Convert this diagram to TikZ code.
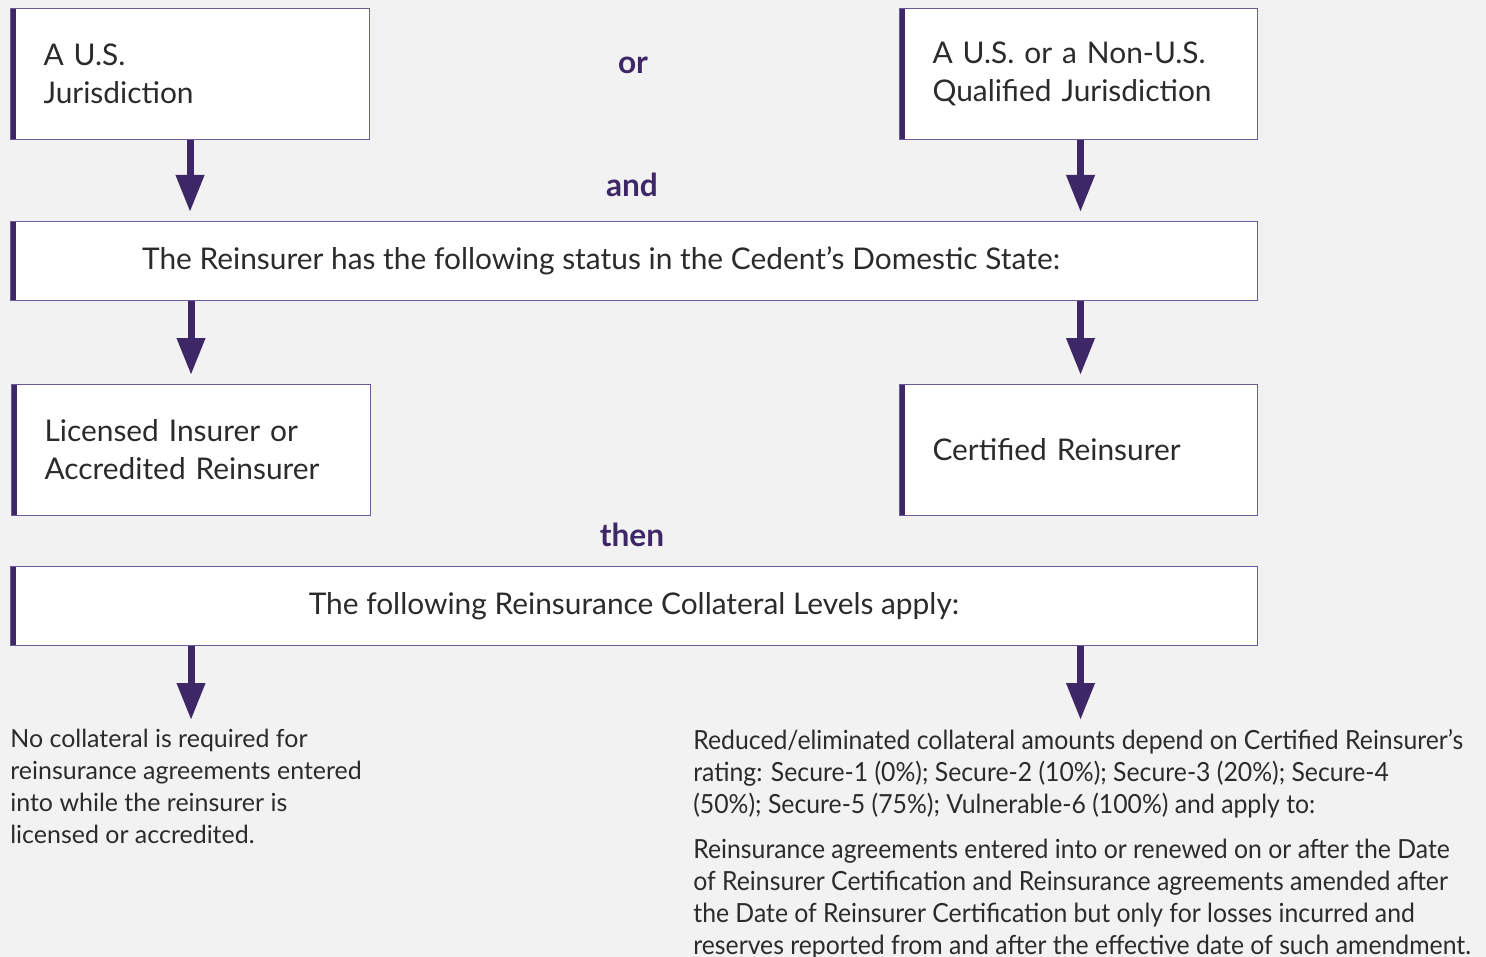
\documentclass[tikz,border=0pt]{standalone}
\usepackage{fontspec}
\setmainfont{Lato}
\newfontfamily\narrowfont{Lato}[FakeStretch=0.94]
\usetikzlibrary{arrows.meta}

\definecolor{navpurple}{HTML}{3D2767}
\definecolor{edgepurple}{HTML}{6E5A9A}
\definecolor{pagegray}{HTML}{F2F2F2}
\definecolor{inkgray}{HTML}{2B2B2B}

\tikzset{
  stepbox/.style={draw=edgepurple, line width=0.6pt, fill=white, anchor=north west,
    align=left, inner xsep=0.66cm, minimum height=2.62cm, text=inkgray,
    font=\fontsize{17}{21.6}\selectfont,
    path picture={\fill[navpurple] (path picture bounding box.north west)
      rectangle ([xshift=0.1cm]path picture bounding box.south west);}},
  widebox/.style={stepbox, align=center, minimum height=1.58cm, minimum width=24.94cm},
  joinword/.style={text=navpurple, font=\fontsize{18}{20}\bfseries},
  flow/.style={-{Triangle[width=0.54cm,length=0.74cm]}, line width=0.14cm,
    navpurple, shorten >=0.18cm},
  notetext/.style={anchor=north west, align=left, inner sep=0pt, text=inkgray,
    font=\fontsize{14.2}{18.2}\selectfont}
}

\begin{document}
\begin{tikzpicture}
    \useasboundingbox[fill=pagegray] (0,0) rectangle (29.72,-19.14);

    \node[stepbox, text width=5.86cm] (usjur) at (0.2,-0.16) {A U.S.\\Jurisdiction};
    \node[stepbox, text width=5.84cm] (qualjur) at (17.98,-0.16) {A U.S. or a Non-U.S.\\Qualified Jurisdiction};
    \node[widebox] (status) at (0.2,-4.42) {The Reinsurer has the following status in the Cedent’s Domestic State:\hspace*{1.32cm}};
    \node[stepbox, text width=5.86cm] (licensed) at (0.22,-7.68) {Licensed Insurer or\\Accredited Reinsurer};
    \node[stepbox, text width=5.84cm] (certified) at (17.98,-7.68) {Certified Reinsurer};
    \node[widebox] (levels) at (0.2,-11.32) {The following Reinsurance Collateral Levels apply:};

    \node[joinword] (orword) at (12.66,-1.30) {or};
    \node[joinword] (andword) at (12.64,-3.70) {and};
    \node[joinword] (thenword) at (12.64,-10.70) {then};

    \node[notetext] (nocoll) at (0.2,-14.58)
        {No collateral is required for\\reinsurance agreements entered\\into while the reinsurer is\\licensed or accredited.};
    \node[notetext, font=\narrowfont\fontsize{15}{18.2}\selectfont] (reduced) at (13.86,-14.58)
        {Reduced/eliminated collateral amounts depend on Certified Reinsurer’s\\
         rating: Secure-1 (0\%); Secure-2 (10\%); Secure-3 (20\%); Secure-4\\
         (50\%); Secure-5 (75\%); Vulnerable-6 (100\%) and apply to:\\[0.26cm]
         Reinsurance agreements entered into or renewed on or after the Date\\
         of Reinsurer Certification and Reinsurance agreements amended after\\
         the Date of Reinsurer Certification but only for losses incurred and\\
         reserves reported from and after the effective date of such amendment.};

    \draw[flow] (usjur.south) -- (usjur.south |- status.north);
    \draw[flow] ([xshift=0.04cm]qualjur.south) -- ([xshift=0.04cm]qualjur.south |- status.north);
    \draw[flow] (licensed.north |- status.south) -- (licensed.north);
    \draw[flow] ([xshift=0.04cm]certified.north |- status.south) -- ([xshift=0.04cm]certified.north);
    \draw[flow] (licensed.south |- levels.south) -- (licensed.south |- nocoll.north);
    \draw[flow] ([xshift=0.04cm]certified.south |- levels.south) -- ([xshift=0.04cm]certified.south |- reduced.north);
\end{tikzpicture}
\end{document}
